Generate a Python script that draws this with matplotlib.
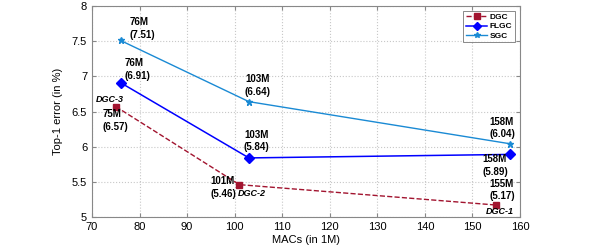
import matplotlib
matplotlib.use("Agg")
import matplotlib.pyplot as plt

plt.rcParams["font.family"] = ["Liberation Sans", "DejaVu Sans"]

# data
dgc_macs = [75, 101, 155]
dgc_err = [6.57, 5.46, 5.17]
flgc_macs = [76, 103, 158]
flgc_err = [6.91, 5.84, 5.89]
sgc_macs = [76, 103, 158]
sgc_err = [7.51, 6.64, 6.04]
dgc_tags = ["DGC-3", "DGC-2", "DGC-1"]

# label offsets (pixels) for value labels
sgc_off = [(9, 12), (-4, 16), (-21, 16)]
flgc_off = [(4, 13), (-5, 17), (-28, -11)]
dgc_off = [(-13, -14), (-29, -3), (-7, 15)]
tag_off = [(-20, 7), (-2, -9), (-10, -6)]

c_dgc = "#a2142f"
c_flgc = "#0000ff"
c_sgc = "#1a8ad4"

fig = plt.figure(figsize=(5.99, 2.46), dpi=100)
ax = fig.add_axes([92 / 599, 29 / 246, 428 / 599, 211 / 246])

ax.plot(dgc_macs, dgc_err, "--", color=c_dgc, marker="s", markersize=4.5,
        linewidth=1, label="DGC")
ax.plot(flgc_macs, flgc_err, "-", color=c_flgc, marker="D", markersize=5,
        linewidth=1.1, label="FLGC")
ax.plot(sgc_macs, sgc_err, "-", color=c_sgc, marker="*", markersize=4.5,
        linewidth=1, label="SGC")


def label(xs, ys, offs):
    for x, y, (dx, dy) in zip(xs, ys, offs):
        ax.annotate(f"{x}M\n({y:.2f})", (x, y), xytext=(dx, dy),
                    textcoords="offset pixels", ha="left", va="center",
                    fontsize=7, fontweight="bold", linespacing=1.3)


label(sgc_macs, sgc_err, sgc_off)
label(flgc_macs, flgc_err, flgc_off)
label(dgc_macs, dgc_err, dgc_off)
for x, y, t, (dx, dy) in zip(dgc_macs, dgc_err, dgc_tags, tag_off):
    ax.annotate(t, (x, y), xytext=(dx, dy), textcoords="offset pixels",
                ha="left", va="center", fontsize=6.5, fontweight="bold",
                fontstyle="italic")

ax.set_xlim(70, 160)
ax.set_ylim(5, 8)
ax.set_xticks(range(70, 161, 10))
ax.set_yticks([5, 5.5, 6, 6.5, 7, 7.5, 8])
ax.set_yticklabels(["5", "5.5", "6", "6.5", "7", "7.5", "8"])
ax.grid(True, linestyle=":", color="#c8c8c8", linewidth=0.8)
ax.tick_params(direction="in", top=True, right=True, labelsize=8,
               length=3, color="#888888")
for s in ax.spines.values():
    s.set_color("#888888")
    s.set_linewidth(0.8)

ax.set_xlabel("MACs (in 1M)", fontsize=8, labelpad=2)
ax.set_ylabel("Top-1 error (in %)", fontsize=8, labelpad=6)

leg = ax.legend(loc="upper right", fontsize=6, frameon=True, fancybox=False,
                handlelength=2.6, borderpad=0.3, labelspacing=0.15,
                handletextpad=0.3, borderaxespad=0.6, markerscale=0.85)
leg.get_frame().set_edgecolor("#555555")
leg.get_frame().set_linewidth(0.6)
for t in leg.get_texts():
    t.set_fontweight("bold")

fig.savefig("out.png", dpi=100)
